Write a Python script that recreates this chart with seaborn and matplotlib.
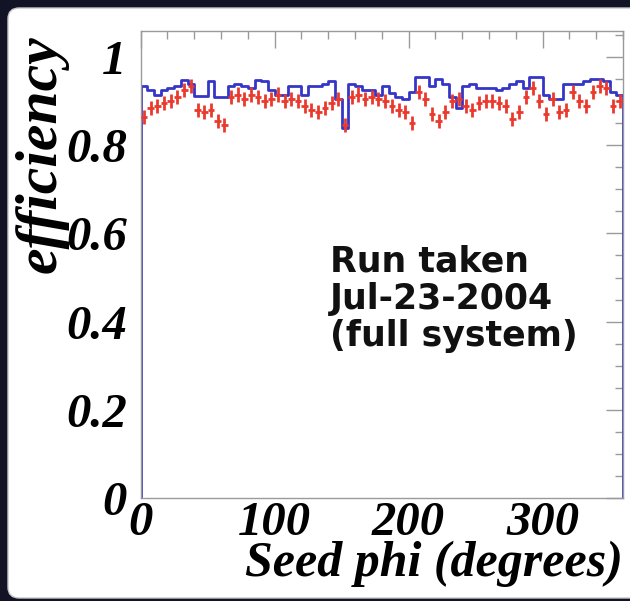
import numpy as np
import pandas as pd
import matplotlib
matplotlib.use("Agg")
import matplotlib.pyplot as plt
import seaborn as sns
from matplotlib.patches import FancyBboxPatch
from matplotlib.ticker import MultipleLocator

# ---- data (72 bins of 5 degrees) ----
bin_edges = list(range(0, 365, 5))
blue_eff = [0.935, 0.925, 0.915, 0.925, 0.930, 0.935, 0.948, 0.940, 0.912, 0.912,
            0.945, 0.910, 0.910, 0.935, 0.940, 0.935, 0.930, 0.948, 0.945, 0.925,
            0.915, 0.915, 0.935, 0.935, 0.915, 0.935, 0.935, 0.940, 0.945, 0.905,
            0.840, 0.940, 0.935, 0.925, 0.925, 0.915, 0.935, 0.918, 0.910, 0.905,
            0.920, 0.955, 0.955, 0.935, 0.950, 0.940, 0.910, 0.885, 0.935, 0.940,
            0.930, 0.930, 0.930, 0.925, 0.930, 0.940, 0.945, 0.930, 0.955, 0.955,
            0.915, 0.905, 0.905, 0.940, 0.940, 0.940, 0.945, 0.950, 0.950, 0.945,
            0.920, 0.915]
red_eff = [0.865, 0.885, 0.890, 0.895, 0.900, 0.910, 0.925, 0.935, 0.880, 0.875,
           0.880, 0.855, 0.845, 0.910, 0.915, 0.905, 0.915, 0.910, 0.900, 0.905,
           0.915, 0.900, 0.905, 0.900, 0.890, 0.880, 0.875, 0.885, 0.895, 0.905,
           0.845, 0.910, 0.915, 0.905, 0.910, 0.905, 0.900, 0.890, 0.880, 0.875,
           0.850, 0.920, 0.905, 0.870, 0.855, 0.875, 0.900, 0.905, 0.890, 0.880,
           0.895, 0.900, 0.900, 0.895, 0.890, 0.860, 0.875, 0.910, 0.930, 0.900,
           0.870, 0.905, 0.875, 0.880, 0.920, 0.900, 0.890, 0.920, 0.935, 0.930,
           0.890, 0.900]
red_err = 0.016
x_ticks = [0, 100, 200, 300]
y_ticks = [0, 0.2, 0.4, 0.6, 0.8, 1]
y_tick_labels = ["0", "0.2", "0.4", "0.6", "0.8", "1"]
note_lines = ["Run taken", "Jul-23-2004", "(full system)"]

BLUE = "#3535c8"
RED = "#ea3a2e"
FRAME = "#9a9a9a"

edges = np.array(bin_edges, dtype=float)
centers = (edges[:-1] + edges[1:]) / 2
half_w = np.diff(edges) / 2
df = pd.DataFrame({"phi": centers, "blue": blue_eff, "red": red_eff})

sns.set_theme(style="white")
plt.rcParams["font.family"] = ["Liberation Serif", "DejaVu Serif"]

W, H = 630, 601
fig = plt.figure(figsize=(W / 100, H / 100), dpi=100, facecolor="#121426")
panel = FancyBboxPatch((8 / W, 3 / H), 800 / W, 1 - 11 / H,
                       boxstyle="round,pad=0,rounding_size=0.018",
                       transform=fig.transFigure, facecolor="white",
                       edgecolor="#c8c8c8", linewidth=1.0, zorder=-10)
fig.patches.append(panel)

ax = fig.add_axes([140.6 / W, 1 - 498 / H, (623 - 140.6) / W, (498 - 30.6) / H])
ax.set_facecolor("none")
ax.set_zorder(5)

sns.histplot(data=df, x="phi", weights="blue", bins=bin_edges, element="step",
             fill=False, color=BLUE, linewidth=2.0, ax=ax)
# closing verticals of the histogram outline down to zero
ax.plot([edges[0], edges[0]], [0, blue_eff[0]], color=BLUE, lw=2.0, solid_capstyle="butt")
ax.plot([edges[-1], edges[-1]], [0, blue_eff[-1]], color=BLUE, lw=2.0, solid_capstyle="butt")

ax.errorbar(df["phi"], df["red"], xerr=half_w, yerr=red_err, fmt="none",
            ecolor=RED, elinewidth=2.0, capsize=0, zorder=3)

ax.set_xlim(0, 360)
ax.set_ylim(0, 1.06)
ax.set_xticks(x_ticks)
ax.set_xticklabels([str(t) for t in x_ticks])
ax.set_yticks(y_ticks)
ax.set_yticklabels(y_tick_labels)
ax.xaxis.set_minor_locator(MultipleLocator(20))
ax.yaxis.set_minor_locator(MultipleLocator(0.05))

FAM = ["Liberation Serif", "DejaVu Serif"]
for lab in ax.get_xticklabels() + ax.get_yticklabels():
    lab.set_fontfamily(FAM)
    lab.set_fontweight("bold")
    lab.set_fontstyle("italic")
    lab.set_fontsize(35)
    lab.set_color("black")

ax.tick_params(which="both", direction="in", top=True, right=True,
               color=FRAME, width=1.0)
ax.tick_params(which="major", length=12)
ax.tick_params(which="minor", length=6)
ax.tick_params(axis="x", which="major", pad=2)
ax.tick_params(axis="y", which="major", pad=10)

for sp in ax.spines.values():
    sp.set_color(FRAME)
    sp.set_linewidth(1.0)

ax.set_xlabel("Seed phi (degrees)", family=FAM, weight="bold", style="italic",
              size=36, color="black", ha="right", x=1.0, labelpad=-3)
ax.set_ylabel("efficiency", family=FAM, weight="bold", style="italic",
              size=43, color="black", ha="right", y=0.99, labelpad=-2)

ax.text(141, 0.575, "\n".join(note_lines), fontsize=25, fontweight="bold",
        family=["DejaVu Sans"], color="#111111", ha="left", va="top",
        linespacing=1.12)

fig.savefig("out.png", dpi=100, facecolor=fig.get_facecolor())
